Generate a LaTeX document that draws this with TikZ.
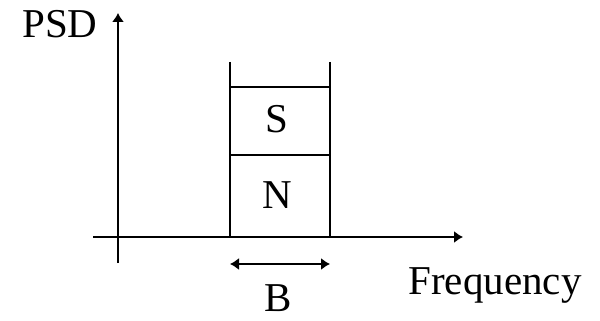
\documentclass[tikz,border=0pt]{standalone}
\usepackage{fontspec}
\setmainfont{Liberation Serif}
\usetikzlibrary{arrows.meta}
\begin{document}
\begin{tikzpicture}[x=1pt,y=-1pt,line width=1.4pt,
  tip/.style={-{Latex[length=9pt,width=12pt]}},
  dtip/.style={{Latex[length=9pt,width=12pt]}-{Latex[length=9pt,width=12pt]}},
  lbl/.style={font=\fontsize{41}{41}\selectfont,inner sep=0pt,anchor=base}]
\useasboundingbox (0,0) rectangle (600,321);
\coordinate (yb) at (118,263);
\coordinate (yt) at (118,13);
\coordinate (xl) at (93,237);
\coordinate (xr) at (463,237);
\draw[tip] (yb) -- (yt);
\draw[tip] (xl) -- (xr);
\coordinate (lt) at (230,62);
\coordinate (lb) at (230,237);
\coordinate (rt) at (330,62);
\coordinate (rb) at (330,237);
\coordinate (l1) at (230,87);
\coordinate (r1) at (330,87);
\coordinate (l2) at (230,155);
\coordinate (r2) at (330,155);
\draw (lt) -- (lb);
\draw (rt) -- (rb);
\draw (l1) -- (r1);
\draw (l2) -- (r2);
\coordinate (bl) at (230,264);
\coordinate (br) at (330,264);
\draw[dtip] (bl) -- (br);
\node[lbl] (psd) at (60,38) {PSD};
\node[lbl] (s) at (277,132) {S};
\node[lbl] (n) at (277,208) {N};
\node[lbl] (freq) at (495,294) {Frequency};
\node[lbl] (b) at (278,311) {B};
\end{tikzpicture}
\end{document}
